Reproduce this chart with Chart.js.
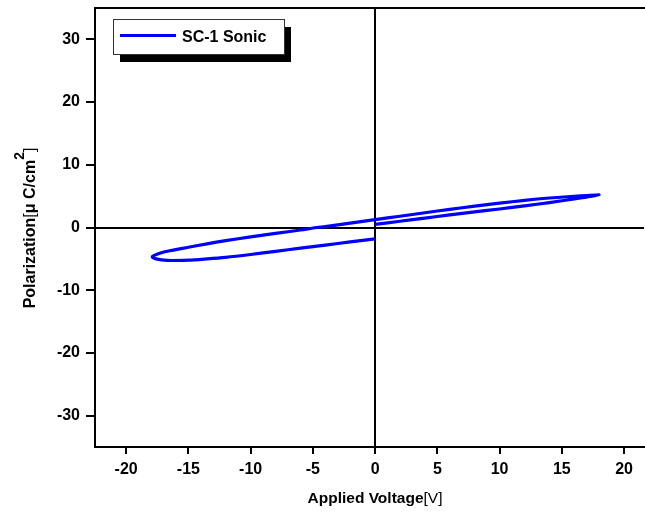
<!DOCTYPE html>
<html>
<head>
<meta charset="utf-8">
<script src="https://cdn.jsdelivr.net/npm/chart.js@4.4.1/dist/chart.umd.min.js"></script>
<style>
html,body{margin:0;padding:0;background:#fff;overflow:hidden;}
#wrap{width:645px;height:515px;position:relative;}
</style>
</head>
<body>
<div id="wrap"><canvas id="c" width="645" height="515"></canvas></div>
<script>
// ---- data ----
const seriesLabel = "SC-1 Sonic";
const voltage = [0, 2, 4, 6, 8, 10, 12, 14, 16, 17, 18,
                 17, 16, 14, 12, 10, 8, 6, 4, 2, 0,
                 -2, -4, -4.7, -6, -8, -10, -12, -13.5, -15, -16.5, -17.3, -17.9,
                 -17.6, -16.7, -15, -13.5, -12, -10, -8, -6, -4, -2, 0];
const polarization = [0.5, 1.0, 1.5, 2.0, 2.5, 2.95, 3.45, 3.98, 4.55, 4.85, 5.18,
                 5.1, 4.98, 4.7, 4.33, 3.88, 3.4, 2.9, 2.35, 1.8, 1.25,
                 0.7, 0.15, 0.0, -0.4, -0.95, -1.5, -2.1, -2.6, -3.15, -3.7, -4.1, -4.65,
                 -5.0, -5.25, -5.2, -5.0, -4.75, -4.3, -3.8, -3.3, -2.8, -2.3, -1.8];
const xTicks = [-20, -15, -10, -5, 0, 5, 10, 15, 20];
const yTicks = [-30, -20, -10, 0, 10, 20, 30];
const xTitleMain = "Applied Voltage";
const xTitleUnit = "[V]";
const yTitleParts = ["Polarization", "[", "\u03bc C/cm", "2", "]"];

const FONT = "'Liberation Sans', Arial, sans-serif";
const points = voltage.map((v, i) => ({x: v, y: polarization[i]}));

const gridColor = ctx => (ctx.tick && ctx.tick.value === 0) ? '#000' : 'rgba(0,0,0,0)';

const framePlugin = {
  id: 'frame',
  afterDraw(chart) {
    const ctx = chart.ctx, a = chart.chartArea;
    ctx.save();
    // top border
    ctx.strokeStyle = '#000';
    ctx.lineWidth = 2;
    ctx.beginPath();
    ctx.moveTo(a.left - 1, a.top);
    ctx.lineTo(chart.width, a.top);
    ctx.stroke();

    // legend box with shadow
    const bx = 113, by = 19, bw = 171, bh = 35;
    ctx.fillStyle = '#000';
    ctx.fillRect(bx + 7, by + 8, bw, bh);
    ctx.fillStyle = '#fff';
    ctx.fillRect(bx, by, bw, bh);
    ctx.strokeStyle = '#333';
    ctx.lineWidth = 1;
    ctx.strokeRect(bx + 0.5, by + 0.5, bw, bh);
    const ds = chart.data.datasets[0];
    ctx.strokeStyle = ds.borderColor;
    ctx.lineWidth = 3;
    ctx.beginPath();
    ctx.moveTo(120, 35.5);
    ctx.lineTo(176, 35.5);
    ctx.stroke();
    ctx.fillStyle = '#000';
    ctx.font = "bold 16px " + FONT;
    ctx.textBaseline = 'middle';
    ctx.textAlign = 'left';
    ctx.fillText(ds.label, 182, 38);

    // x title
    ctx.textBaseline = 'alphabetic';
    const fB = "bold 15.5px " + FONT, fR = "15.5px " + FONT;
    ctx.font = fB; const w1 = ctx.measureText(xTitleMain).width;
    ctx.font = fR; const w2 = ctx.measureText(xTitleUnit).width;
    let x0 = 375 - (w1 + w2) / 2;
    ctx.font = fB; ctx.fillText(xTitleMain, x0, 503);
    ctx.font = fR; ctx.fillText(xTitleUnit, x0 + w1, 503);

    // y title (rotated, with superscript)
    const fY = "bold 16px " + FONT;
    const fonts = [fY, "16px " + FONT, fY, "bold 14px " + FONT, "16px " + FONT];
    const rise = [0, 0, 0, 11, 0];
    const widths = yTitleParts.map((t, i) => { ctx.font = fonts[i]; return ctx.measureText(t).width; });
    const total = widths.reduce((s, w) => s + w, 0);
    ctx.translate(35, 228);
    ctx.rotate(-Math.PI / 2);
    let px = -total / 2;
    yTitleParts.forEach((t, i) => {
      ctx.font = fonts[i];
      ctx.fillText(t, px, -rise[i]);
      px += widths[i];
    });
    ctx.restore();
  }
};

new Chart(document.getElementById('c'), {
  type: 'scatter',
  data: {
    datasets: [{
      label: seriesLabel,
      data: points,
      showLine: true,
      borderColor: '#0000ff',
      backgroundColor: '#0000ff',
      borderWidth: 3.2,
      pointRadius: 0,
      tension: 0.3,
      fill: false
    }]
  },
  options: {
    responsive: false,
    animation: false,
    layout: {padding: {top: 8, right: 1, left: 0, bottom: 0}},
    plugins: {legend: {display: false}, tooltip: {enabled: false}},
    scales: {
      x: {
        type: 'linear', min: -22.5, max: 21.6,
        afterBuildTicks: s => { s.ticks = xTicks.map(v => ({value: v})); },
        afterFit: s => { s.height = 68; s.paddingLeft = 0; s.paddingRight = 0; },
        ticks: {color: '#000', font: {family: FONT, size: 16, weight: 'bold'}, padding: 6, maxRotation: 0, autoSkip: false},
        grid: {color: gridColor, lineWidth: 2, tickColor: '#000', tickLength: 7, drawOnChartArea: true},
        border: {display: true, color: '#000', width: 2}
      },
      y: {
        type: 'linear', min: -35, max: 35,
        afterBuildTicks: s => { s.ticks = yTicks.map(v => ({value: v})); },
        afterFit: s => { s.width = 95; s.paddingTop = 0; s.paddingBottom = 0; },
        ticks: {color: '#000', font: {family: FONT, size: 16, weight: 'bold'}, padding: 6, autoSkip: false},
        grid: {color: gridColor, lineWidth: 2, tickColor: '#000', tickLength: 9, drawOnChartArea: true},
        border: {display: true, color: '#000', width: 2}
      }
    }
  },
  plugins: [framePlugin]
});
</script>
</body>
</html>
